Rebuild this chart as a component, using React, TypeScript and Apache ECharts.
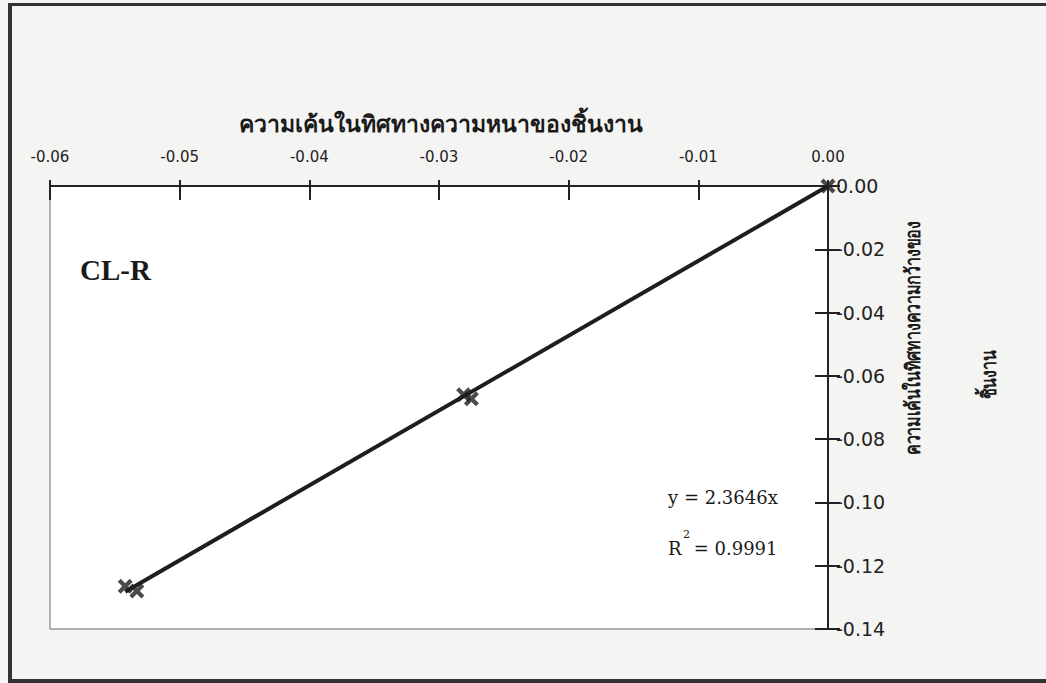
import React, { useEffect, useRef } from "react";
import * as echarts from "echarts";

const xTickLabels = ["-0.06", "-0.05", "-0.04", "-0.03", "-0.02", "-0.01", "0.00"];
const pointsX = [0, -0.0281, -0.0275, -0.0542, -0.0533];
const pointsY = [0, -0.066, -0.0672, -0.1265, -0.128];
const trendX = [0, -0.0542];
const trendY = [0, -0.1282];
const xTitle = "ความเค้นในทิศทางความหนาของชิ้นงาน";
const yTitle1 = "ความเค้นในทิศทางความกว้างของ";
const yTitle2 = "ชิ้นงาน";
const seriesLabel = "CL-R";
const eqText = "y = 2.3646x";
const r2Text = "R";
const r2Value = " = 0.9991";

const X_MARK = "path://M2,0 L5,3 L8,0 L10,2 L7,5 L10,8 L8,10 L5,7 L2,10 L0,8 L3,5 L0,2 Z";

export default function App() {
  const ref = useRef<HTMLDivElement>(null);
  useEffect(() => {
    if (!ref.current) return;
    const chart = echarts.init(ref.current, null, { renderer: "svg" });
    const gridL = 50, gridR = 218, gridT = 186, gridB = 54;
    const xAxisBase = {
      type: "value" as const,
      position: "top" as const,
      min: -0.06,
      max: 0,
      interval: 0.01,
      splitLine: { show: false },
    };
    const yAxisBase = {
      type: "value" as const,
      position: "right" as const,
      min: -0.14,
      max: 0,
      interval: 0.02,
      splitLine: { show: false },
    };
    chart.setOption({
      animation: false,
      backgroundColor: "#f4f4f2",
      grid: {
        left: gridL,
        right: gridR,
        top: gridT,
        bottom: gridB,
        show: true,
        backgroundColor: "#ffffff",
        borderColor: "#666",
        borderWidth: 1,
      },
      xAxis: [
        {
          ...xAxisBase,
          axisLine: { show: true, lineStyle: { color: "#222", width: 2 } },
          axisTick: { show: true, inside: true, length: 14, lineStyle: { color: "#222", width: 2 } },
          axisLabel: {
            show: true,
            margin: 22,
            color: "#222",
            fontFamily: "DejaVu Sans",
            fontSize: 15,
            formatter: (v: number) => xTickLabels[Math.round((v + 0.06) / 0.01)] ?? "",
          },
        },
        {
          ...xAxisBase,
          axisLine: { show: false },
          axisTick: { show: true, inside: false, length: 6, lineStyle: { color: "#222", width: 2 } },
          axisLabel: { show: false },
        },
      ],
      yAxis: [
        {
          ...yAxisBase,
          axisLine: { show: true, lineStyle: { color: "#222", width: 2 } },
          axisTick: { show: true, inside: true, length: 13, lineStyle: { color: "#222", width: 2 } },
          axisLabel: {
            show: true,
            margin: 8,
            color: "#222",
            fontFamily: "DejaVu Sans",
            fontSize: 19,
            formatter: (v: number) => v.toFixed(2),
          },
        },
        {
          ...yAxisBase,
          axisLine: { show: false },
          axisTick: { show: true, inside: false, length: 12, lineStyle: { color: "#222", width: 2 } },
          axisLabel: { show: false },
        },
      ],
      series: [
        {
          type: "line",
          data: trendX.map((x, i) => [x, trendY[i]]),
          symbol: "none",
          lineStyle: { color: "#1e1e1e", width: 4 },
          z: 2,
        },
        {
          type: "scatter",
          data: pointsX.map((x, i) => [x, pointsY[i]]),
          symbol: X_MARK,
          symbolSize: 15,
          itemStyle: { color: "#1e1e1e" },
          z: 3,
        },
      ],
      graphic: [
        { type: "rect", shape: { x: 8, y: 3, width: 1040, height: 3 }, style: { fill: "#333" } },
        { type: "rect", shape: { x: 8, y: 3, width: 4, height: 680 }, style: { fill: "#333" } },
        { type: "rect", shape: { x: 8, y: 679, width: 1040, height: 4 }, style: { fill: "#333" } },
        {
          type: "text",
          x: 441,
          y: 123,
          style: {
            text: xTitle,
            fill: "#1a1a1a",
            font: "bold 23px 'Noto Sans', sans-serif",
            align: "center",
            verticalAlign: "middle",
          },
        },
        {
          type: "text",
          x: 912,
          y: 338,
          rotation: Math.PI / 2,
          scaleX: 0.8,
          style: {
            text: yTitle1,
            fill: "#1a1a1a",
            font: "bold 20px 'Noto Sans', sans-serif",
            align: "center",
            verticalAlign: "middle",
          },
        },
        {
          type: "text",
          x: 988,
          y: 375,
          rotation: Math.PI / 2,
          scaleX: 0.8,
          style: {
            text: yTitle2,
            fill: "#1a1a1a",
            font: "bold 20px 'Noto Sans', sans-serif",
            align: "center",
            verticalAlign: "middle",
          },
        },
        {
          type: "text",
          x: 80,
          y: 270,
          style: {
            text: seriesLabel,
            fill: "#1a1a1a",
            font: "bold 29px 'Liberation Serif', serif",
            align: "left",
            verticalAlign: "middle",
          },
        },
        {
          type: "text",
          x: 668,
          y: 497,
          style: {
            text: eqText,
            fill: "#1a1a1a",
            font: "18px 'DejaVu Serif', serif",
            align: "left",
            verticalAlign: "middle",
          },
        },
        {
          type: "text",
          x: 668,
          y: 548,
          style: {
            text: r2Text,
            fill: "#1a1a1a",
            font: "18px 'DejaVu Serif', serif",
            align: "left",
            verticalAlign: "middle",
          },
        },
        {
          type: "text",
          x: 683,
          y: 534,
          style: {
            text: "2",
            fill: "#1a1a1a",
            font: "11px 'DejaVu Serif', serif",
            align: "left",
            verticalAlign: "middle",
          },
        },
        {
          type: "text",
          x: 688,
          y: 548,
          style: {
            text: r2Value,
            fill: "#1a1a1a",
            font: "18px 'DejaVu Serif', serif",
            align: "left",
            verticalAlign: "middle",
          },
        },
      ],
    });
    return () => chart.dispose();
  }, []);
  return (
    <div
      ref={ref}
      style={{ position: "absolute", left: 0, top: 0, width: 1046, height: 683 }}
    />
  );
}
